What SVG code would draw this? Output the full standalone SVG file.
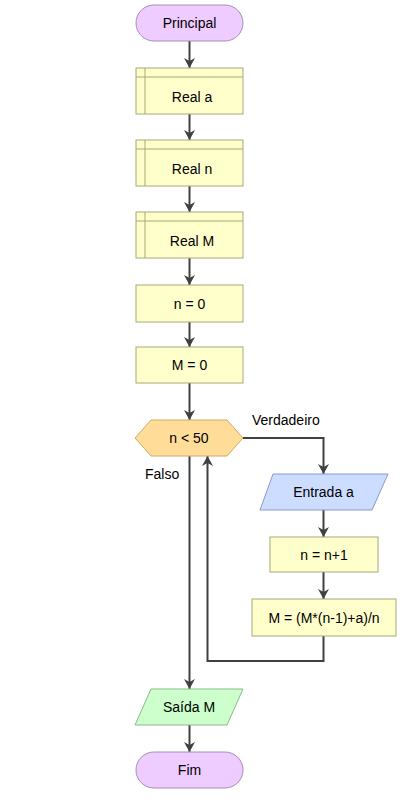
<svg xmlns="http://www.w3.org/2000/svg" width="418" height="806" viewBox="0 0 418 806">
<defs>
<marker id="ah" markerWidth="11" markerHeight="11" refX="10" refY="5.5" orient="auto" markerUnits="userSpaceOnUse" viewBox="0 0 11 11">
<path d="M0,0 L3,5.5 L0,11 L10,5.5 Z" fill="#404040"/>
</marker>
<style>
text{font-family:"Liberation Sans",Arial,sans-serif;font-size:14px;fill:#000;text-anchor:middle;dominant-baseline:central}
.lbl{text-anchor:start}
.term{fill:#eeccff;stroke:#a68fb5;stroke-width:1}
.proc{fill:#ffffcc;stroke:#a8a878;stroke-width:1}
.dec{fill:#ffdd99;stroke:#d2aa66;stroke-width:1}
.in{fill:#ccddff;stroke:#8899cc;stroke-width:1}
.out{fill:#ccffcc;stroke:#88bb88;stroke-width:1}
.c{fill:none;stroke:#404040;stroke-width:2}
</style>
</defs>
<g id="connectors">
<path class="c" d="M189.5,41 V68" marker-end="url(#ah)"/>
<path class="c" d="M189.5,114 V140" marker-end="url(#ah)"/>
<path class="c" d="M189.5,186 V212" marker-end="url(#ah)"/>
<path class="c" d="M189.5,258 V285" marker-end="url(#ah)"/>
<path class="c" d="M189.5,322 V347" marker-end="url(#ah)"/>
<path class="c" d="M189.5,383 V420" marker-end="url(#ah)"/>
<path class="c" d="M243,438 H323.5 V474" marker-end="url(#ah)"/>
<path class="c" d="M323.5,510 V537" marker-end="url(#ah)"/>
<path class="c" d="M323.5,572 V599" marker-end="url(#ah)"/>
<path class="c" d="M323.5,636 V661 H207.5 V456" marker-end="url(#ah)"/>
<path class="c" d="M189.5,456 V689" marker-end="url(#ah)"/>
<path class="c" d="M189.5,725 V752" marker-end="url(#ah)"/>
<text class="lbl" x="252" y="420">Verdadeiro</text>
<text class="lbl" x="145" y="474">Falso</text>
</g>
<g id="principal">
<rect class="term" x="136" y="5" width="107" height="36" rx="18"/>
<text x="189.5" y="23">Principal</text>
</g>
<g id="real_a">
<rect class="proc" x="136" y="68" width="107" height="46"/>
<path class="proc" d="M136,77 H243 M145,68 V114" fill="none"/>
<text x="192" y="97">Real a</text>
</g>
<g id="real_n">
<rect class="proc" x="136" y="140" width="107" height="46"/>
<path class="proc" d="M136,149 H243 M145,140 V186" fill="none"/>
<text x="192" y="169">Real n</text>
</g>
<g id="real_M">
<rect class="proc" x="136" y="212" width="107" height="46"/>
<path class="proc" d="M136,221 H243 M145,212 V258" fill="none"/>
<text x="192" y="241">Real M</text>
</g>
<g id="n_eq_0">
<rect class="proc" x="136" y="285" width="107" height="37"/>
<text x="189.5" y="303.5">n = 0</text>
</g>
<g id="M_eq_0">
<rect class="proc" x="136" y="347" width="107" height="36"/>
<text x="189.5" y="365">M = 0</text>
</g>
<g id="cond">
<polygon class="dec" points="135,438 151,420 227,420 243,438 227,456 151,456"/>
<text x="189" y="438">n &lt; 50</text>
</g>
<g id="entrada_a">
<polygon class="in" points="273,474 388,474 372,510 260,510"/>
<text x="323.5" y="492">Entrada a</text>
</g>
<g id="n_inc">
<rect class="proc" x="270" y="537" width="108" height="35"/>
<text x="324" y="554.5">n = n+1</text>
</g>
<g id="M_calc">
<rect class="proc" x="252" y="599" width="144" height="37"/>
<text x="324" y="617.5">M = (M*(n-1)+a)/n</text>
</g>
<g id="saida_M">
<polygon class="out" points="151,689 243,689 227,725 135,725"/>
<text x="189" y="707">Saída M</text>
</g>
<g id="fim">
<rect class="term" x="136" y="752" width="107" height="36" rx="18"/>
<text x="189.5" y="770">Fim</text>
</g>
</svg>
